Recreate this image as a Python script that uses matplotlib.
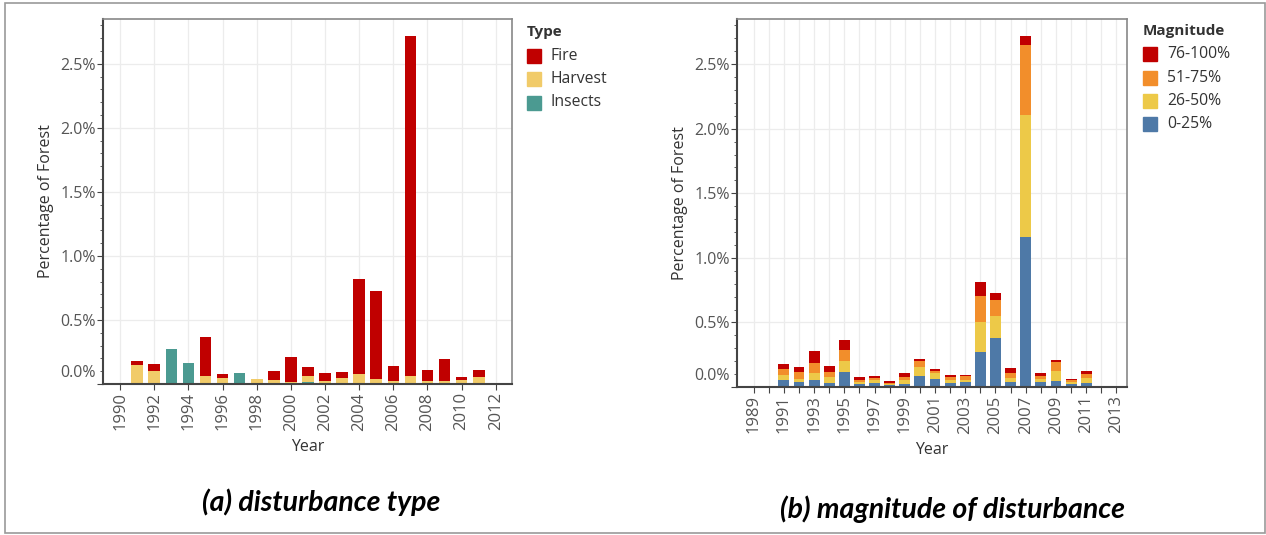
import matplotlib
matplotlib.use('Agg')
import matplotlib.pyplot as plt
from matplotlib.patches import Rectangle
from matplotlib.ticker import MultipleLocator, FixedLocator, FuncFormatter
import numpy as np

plt.rcParams['font.family'] = ['Open Sans', 'DejaVu Sans']

years = np.arange(1991, 2012)

# percentage of forest disturbed, by disturbance type
fire = [0.03, 0.05, 0.00, 0.00, 0.30, 0.03, 0.00, 0.00, 0.075, 0.20, 0.065,
        0.067, 0.05, 0.74, 0.69, 0.12, 2.65, 0.09, 0.175, 0.027, 0.055]
harvest = [0.15, 0.105, 0.00, 0.00, 0.066, 0.047, 0.00, 0.039, 0.03, 0.013, 0.053,
           0.02, 0.047, 0.069, 0.039, 0.02, 0.056, 0.02, 0.02, 0.03, 0.057]
insects = [0.00, 0.00, 0.271, 0.163, 0.00, 0.00, 0.087, 0.00, 0.00, 0.00, 0.012,
           0.00, 0.00, 0.01, 0.00, 0.00, 0.01, 0.00, 0.00, 0.00, 0.00]

# percentage of forest disturbed, by magnitude class
mag_0_25 = [0.057, 0.039, 0.057, 0.031, 0.116, 0.026, 0.031, 0.013, 0.026, 0.083, 0.065,
            0.031, 0.039, 0.269, 0.38, 0.039, 1.16, 0.039, 0.049, 0.026, 0.031]
mag_26_50 = [0.033, 0.026, 0.052, 0.044, 0.088, 0.013, 0.021, 0.008, 0.026, 0.069, 0.044,
             0.021, 0.018, 0.232, 0.168, 0.031, 0.943, 0.026, 0.072, 0.013, 0.039]
mag_51_75 = [0.052, 0.051, 0.077, 0.041, 0.085, 0.018, 0.018, 0.010, 0.023, 0.047, 0.018,
             0.023, 0.026, 0.202, 0.129, 0.039, 0.546, 0.023, 0.073, 0.013, 0.031]
mag_76_100 = [0.039, 0.036, 0.090, 0.044, 0.073, 0.018, 0.018, 0.013, 0.034, 0.018, 0.013,
              0.021, 0.013, 0.108, 0.052, 0.038, 0.069, 0.021, 0.018, 0.010, 0.020]

type_colors = {'Fire': '#c00000', 'Harvest': '#f1cb69', 'Insects': '#4b9a91'}
mag_colors = {'76-100%': '#c00000', '51-75%': '#f28e2b', '26-50%': '#edc948', '0-25%': '#4e79a7'}

W, H = 1266, 535
fig = plt.figure(figsize=(W / 100, H / 100), dpi=100)

def px_axes(l, t, r, b):
    return fig.add_axes([l / W, (H - b) / H, (r - l) / W, (b - t) / H])

tick_col = '#555555'
lab_col = '#333333'
tick_fs = 11.5

def pct(v, p):
    # zero is drawn separately, lifted above the baseline
    return '' if abs(v) < 1e-9 else '{:.1f}%'.format(v)

def style_axes(ax):
    ax.set_ylim(0, 2.85)
    ax.yaxis.set_major_locator(MultipleLocator(0.5))
    ax.yaxis.set_minor_locator(MultipleLocator(0.1))
    ax.yaxis.set_major_formatter(FuncFormatter(pct))
    ax.grid(True, which='major', color='#ececec', linewidth=0.9)
    ax.set_axisbelow(True)
    for side in ['top', 'right']:
        ax.spines[side].set_color('#888888')
        ax.spines[side].set_linewidth(1.2)
    for side in ['left', 'bottom']:
        ax.spines[side].set_color('#444444')
        ax.spines[side].set_linewidth(1.5)
    ax.tick_params(axis='y', which='major', length=4, color='#444444',
                   labelsize=tick_fs, labelcolor=tick_col, pad=1)
    ax.tick_params(axis='y', which='minor', length=2.5, color='#444444')
    ax.tick_params(axis='x', which='major', length=4, color='#444444',
                   labelsize=tick_fs + 0.5, labelcolor=tick_col, labelrotation=90, pad=2)
    ax.annotate('0.0%', xy=(0, 0), xycoords=ax.get_yaxis_transform(),
                xytext=(-5, 8), textcoords='offset points', ha='right', va='center',
                fontsize=tick_fs, color=tick_col)
    ax.set_ylabel('Percentage of Forest', fontsize=11.5, color=lab_col, labelpad=5)
    ax.set_xlabel('Year', fontsize=11.5, color=lab_col, labelpad=6)

def legend_block(x, y, title, names, colors, step):
    fig.text(x / W, 1 - y / H, title, fontsize=11, fontweight='bold',
             color=lab_col, va='center', ha='left')
    for i, name in enumerate(names):
        yy = y + step * (i + 1)
        fig.patches.append(Rectangle((x / W, 1 - (yy + 7) / H), 14 / W, 14 / H,
                                     transform=fig.transFigure, color=colors[name]))
        fig.text((x + 24) / W, 1 - yy / H, name, fontsize=11.3,
                 color=lab_col, va='center', ha='left')

# (a) disturbance type
ax1 = px_axes(103, 19, 512, 384)
bottom = np.zeros(len(years))
for name, vals in [('Insects', insects), ('Harvest', harvest), ('Fire', fire)]:
    ax1.bar(years, vals, width=0.68, bottom=bottom, color=type_colors[name])
    bottom += np.array(vals)
ax1.set_xlim(1989.0, 2012.95)
ax1.xaxis.set_major_locator(MultipleLocator(2))
style_axes(ax1)
legend_block(527, 32, 'Type', ['Fire', 'Harvest', 'Insects'], type_colors, 23.5)

# (b) magnitude of disturbance
ax2 = px_axes(737, 19, 1127, 387)
bottom = np.zeros(len(years))
for name, vals in [('0-25%', mag_0_25), ('26-50%', mag_26_50),
                   ('51-75%', mag_51_75), ('76-100%', mag_76_100)]:
    ax2.bar(years, vals, width=0.72, bottom=bottom, color=mag_colors[name])
    bottom += np.array(vals)
ax2.set_xlim(1987.9, 2013.7)
ax2.xaxis.set_major_locator(FixedLocator(np.arange(1989, 2014)))
ax2.xaxis.set_major_formatter(FuncFormatter(lambda v, p: str(int(v)) if int(v) % 2 == 1 else ''))
style_axes(ax2)
legend_block(1143, 31, 'Magnitude', ['76-100%', '51-75%', '26-50%', '0-25%'], mag_colors, 23.3)

# panel captions
fig.text(321 / W, 1 - 502 / H, '(a) disturbance type', fontsize=20.5,
         fontweight='bold', fontstyle='italic', family='Lato', ha='center', va='center')
fig.text(952 / W, 1 - 509 / H, '(b) magnitude of disturbance', fontsize=20.5,
         fontweight='bold', fontstyle='italic', family='Lato', ha='center', va='center')

# outer frame
fig.patches.append(Rectangle((5 / W, 2 / H), 1260 / W, 530 / H, transform=fig.transFigure,
                             fill=False, edgecolor='#9a9a9a', linewidth=1.2))

fig.savefig('out.png', dpi=100)
